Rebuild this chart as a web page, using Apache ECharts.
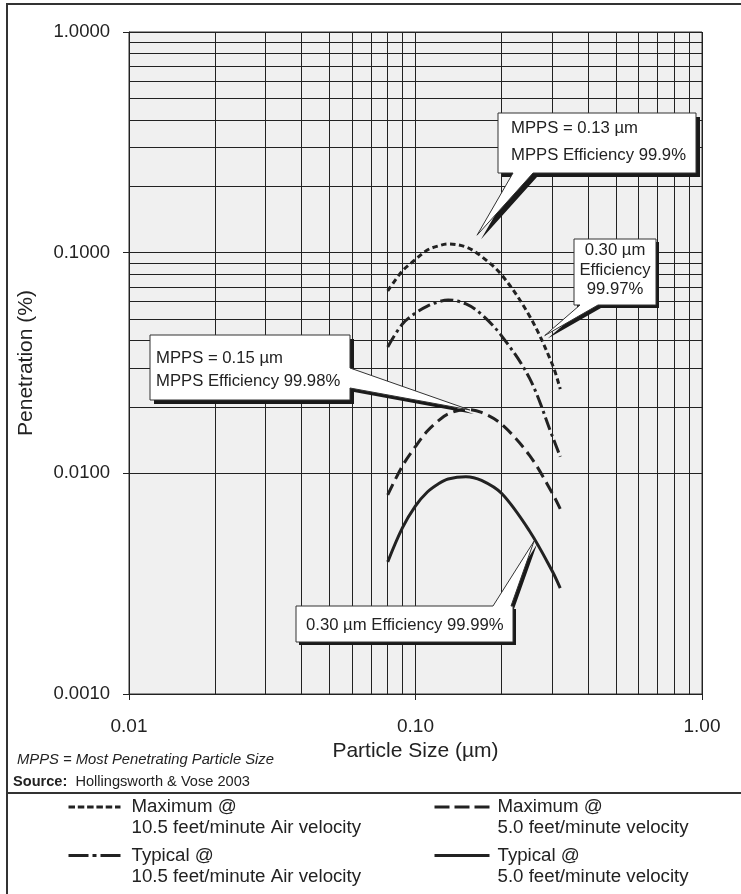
<!DOCTYPE html>
<html>
<head>
<meta charset="utf-8">
<script src="https://cdn.jsdelivr.net/npm/echarts@6/dist/echarts.min.js"></script>
<style>
  html, body { margin: 0; padding: 0; background: #ffffff; }
  #chart { width: 741px; height: 894px; }
</style>
</head>
<body>
<div id="chart"></div>
<script>
// Particle size (µm) at which each penetration curve is sampled
const particleSize = [0.08, 0.09, 0.10, 0.11, 0.12, 0.13, 0.15, 0.17, 0.20, 0.25, 0.30, 0.32];

// Penetration (%) for each filter condition
const maxHighVelocity = [0.0671, 0.0826, 0.0931, 0.1028, 0.1072, 0.1095, 0.1061, 0.0961, 0.0792, 0.0517, 0.0313, 0.0241];
const typHighVelocity = [0.0374, 0.0475, 0.0533, 0.0573, 0.0598, 0.0611, 0.0586, 0.0525, 0.0419, 0.0270, 0.0148, 0.0119];
const maxLowVelocity  = [0.00798, 0.0108, 0.01324, 0.01556, 0.01728, 0.01858, 0.01948, 0.01887, 0.01666, 0.01206, 0.00815, 0.0069];
const typLowVelocity  = [0.00397, 0.00566, 0.00712, 0.00823, 0.00895, 0.00943, 0.00966, 0.00929, 0.0081, 0.00548, 0.00361, 0.00302];

const seriesNames = [
  'Maximum @ 10.5 feet/minute Air velocity',
  'Typical @ 10.5 feet/minute Air velocity',
  'Maximum @ 5.0 feet/minute velocity',
  'Typical @ 5.0 feet/minute velocity'
];

// Intermediate log-grid lines (2..9 within each decade)
const xMinorLines = [0.02, 0.03, 0.04, 0.05, 0.06, 0.07, 0.08, 0.09, 0.2, 0.3, 0.4, 0.5, 0.6, 0.7, 0.8, 0.9];
const yMinorLines = [0.002, 0.003, 0.004, 0.005, 0.006, 0.007, 0.008, 0.009,
                     0.02, 0.03, 0.04, 0.05, 0.06, 0.07, 0.08, 0.09,
                     0.2, 0.3, 0.4, 0.5, 0.6, 0.7, 0.8, 0.9];

// Callout texts and the [size, penetration] points they point at
const calloutTexts = [
  'MPPS = 0.13 µm\nMPPS Efficiency 99.9%',
  '0.30 µm\nEfficiency\n99.97%',
  'MPPS = 0.15 µm\nMPPS Efficiency 99.98%',
  '0.30 µm Efficiency 99.99%'
];
const calloutTargets = [[0.164, 0.120], [0.2825, 0.0421], [0.1547, 0.01938], [0.2593, 0.00493]];

const FONT = '"Liberation Sans", Arial, Helvetica, sans-serif';
const INK = '#222222';

const chart = echarts.init(document.getElementById('chart'), null, { renderer: 'canvas' });

function pairs(ys) { return particleSize.map((x, i) => [x, ys[i]]); }

function curve(name, ys, dash, extra) {
  return Object.assign({
    name: name,
    type: 'line',
    data: pairs(ys),
    smooth: 0.35,
    symbol: 'none',
    z: 3,
    lineStyle: { color: INK, width: 3, type: dash, cap: 'butt' },
    itemStyle: { color: INK }
  }, extra || {});
}

// One legend block per series: line sample beside a two-line caption whose
// first line sits level with the sample (a leading blank line balances it).
function legendBlock(name, left, top, width, dash, padLeft) {
  return {
    data: [name],
    left: left,
    top: top,
    padding: 0,
    itemWidth: width,
    itemHeight: 14,
    selectedMode: false,
    lineStyle: { color: INK, width: 3, type: dash, cap: 'butt' },
    itemStyle: { opacity: 0 },
    formatter: n => '\n' + n.replace(' @ ', ' @\n'),
    textStyle: {
      color: INK, fontFamily: FONT, fontSize: 18.7, lineHeight: 21,
      padding: [0, 0, 0, padLeft]
    }
  };
}

const option = {
  animation: false,
  backgroundColor: '#ffffff',
  grid: {
    left: 129, top: 32, width: 573, height: 662,
    show: true, backgroundColor: '#f0f0f0', borderColor: '#333', borderWidth: 1
  },
  xAxis: {
    type: 'log', logBase: 10, min: 0.01, max: 1,
    name: 'Particle Size (µm)', nameLocation: 'middle', nameGap: 44,
    nameTextStyle: { color: INK, fontFamily: FONT, fontSize: 21 },
    axisLine: { show: true, lineStyle: { color: INK, width: 1 } },
    axisTick: { show: true, length: 6, lineStyle: { color: INK, width: 1 } },
    axisLabel: { color: INK, fontFamily: FONT, fontSize: 19, margin: 23,
                 formatter: v => Number(v).toFixed(2) },
    splitLine: { show: true, lineStyle: { color: INK, width: 1 } },
    minorTick: { show: false }, minorSplitLine: { show: false }
  },
  yAxis: {
    type: 'log', logBase: 10, min: 0.001, max: 1,
    name: 'Penetration (%)', nameLocation: 'middle', nameGap: 92,
    nameTextStyle: { color: INK, fontFamily: FONT, fontSize: 21 },
    axisLine: { show: true, lineStyle: { color: INK, width: 1 } },
    axisTick: { show: true, length: 6, lineStyle: { color: INK, width: 1 } },
    axisLabel: { color: INK, fontFamily: FONT, fontSize: 18.5, margin: 19,
                 formatter: v => Number(v).toFixed(4) },
    splitLine: { show: true, lineStyle: { color: INK, width: 1 } },
    minorTick: { show: false }, minorSplitLine: { show: false }
  },
  legend: [
    legendBlock(seriesNames[0], 67, 775.5, 52, [6.5, 2.8], 6),
    legendBlock(seriesNames[1], 67, 824, 52, [20, 4, 4, 4], 6),
    legendBlock(seriesNames[2], 433, 775.5, 55, [15, 5], 3),
    legendBlock(seriesNames[3], 433, 824, 55, 'solid', 3)
  ],
  series: [
    curve(seriesNames[0], maxHighVelocity, [5.5, 3.5], {
      markLine: {
        z: 1, silent: true, animation: false,
        symbol: ['none', 'none'],
        label: { show: false },
        emphasis: { disabled: true },
        lineStyle: { color: INK, width: 1, type: 'solid' },
        data: xMinorLines.map(v => ({ xAxis: v })).concat(yMinorLines.map(v => ({ yAxis: v })))
      }
    }),
    curve(seriesNames[1], typHighVelocity, [13, 4, 3, 4]),
    curve(seriesNames[2], maxLowVelocity, [12, 6]),
    curve(seriesNames[3], typLowVelocity, 'solid')
  ]
};

chart.setOption(option);

// ---- callout boxes with pointer tails and offset shadows ----
const calloutLayout = [
  { box: { x: 498, y: 113, w: 198, h: 60 }, tail: { side: 'bottom', a: 513, b: 533 }, shadow: 4,
    text: { x: 511, y: 142, align: 'left', lineHeight: 27 } },
  { box: { x: 574, y: 239, w: 82, h: 66 }, tail: { side: 'bottom', a: 580, b: 598 }, shadow: 3,
    text: { x: 615, y: 270, align: 'center', lineHeight: 19.3 } },
  { box: { x: 150, y: 335, w: 200, h: 65 }, tail: { side: 'right', a: 368, b: 388 }, shadow: 4,
    text: { x: 156, y: 370, align: 'left', lineHeight: 23.5 } },
  { box: { x: 296, y: 606, w: 217, h: 36 }, tail: { side: 'top', a: 493, b: 511 }, shadow: 3,
    text: { x: 306, y: 625, align: 'left', lineHeight: 20 } }
];

function calloutPoints(box, tail, tip) {
  const x = box.x, y = box.y, w = box.w, h = box.h;
  if (tail.side === 'bottom') {
    return [[x, y], [x + w, y], [x + w, y + h], [tail.b, y + h], tip, [tail.a, y + h], [x, y + h]];
  }
  if (tail.side === 'top') {
    return [[x, y], [tail.a, y], tip, [tail.b, y], [x + w, y], [x + w, y + h], [x, y + h]];
  }
  return [[x, y], [x + w, y], [x + w, tail.a], tip, [x + w, tail.b], [x + w, y + h], [x, y + h]];
}

const graphics = [];

// outer frame and legend separator
graphics.push({
  type: 'rect', silent: true, z: 100,
  shape: { x: 7, y: 4, width: 800, height: 950 },
  style: { fill: 'none', stroke: '#333', lineWidth: 2 }
});
graphics.push({
  type: 'line', silent: true, z: 100,
  shape: { x1: 7, y1: 793, x2: 760, y2: 793 },
  style: { stroke: '#333', lineWidth: 2 }
});

// footnotes
graphics.push({
  type: 'text', silent: true, z: 100,
  style: {
    text: 'MPPS = Most Penetrating Particle Size', x: 17, y: 760,
    fill: INK, fontFamily: FONT, fontSize: 14.8, fontStyle: 'italic',
    align: 'left', verticalAlign: 'middle', textAlign: 'left', textVerticalAlign: 'middle'
  }
});
graphics.push({
  type: 'text', silent: true, z: 100,
  style: {
    text: '{b|Source:}  Hollingsworth & Vose 2003', x: 13, y: 781.5,
    fill: INK, fontFamily: FONT, fontSize: 14.6,
    rich: { b: { fontWeight: 'bold', fontFamily: FONT, fontSize: 14.6, fill: INK } },
    align: 'left', verticalAlign: 'middle', textAlign: 'left', textVerticalAlign: 'middle'
  }
});

calloutLayout.forEach((c, i) => {
  const tip = chart.convertToPixel({ xAxisIndex: 0, yAxisIndex: 0 }, calloutTargets[i]);
  const pts = calloutPoints(c.box, c.tail, tip);
  const s = c.shadow;
  graphics.push({
    type: 'polygon', silent: true, z: 50,
    shape: { points: pts.map(p => [p[0] + s, p[1] + s]) },
    style: { fill: '#1a1a1a', stroke: 'none' }
  });
  graphics.push({
    type: 'polygon', silent: true, z: 51,
    shape: { points: pts },
    style: { fill: '#ffffff', stroke: '#333', lineWidth: 1 }
  });
  graphics.push({
    type: 'text', silent: true, z: 52,
    style: {
      text: calloutTexts[i], x: c.text.x, y: c.text.y,
      fill: INK, fontFamily: FONT, fontSize: 16.7, lineHeight: c.text.lineHeight,
      align: c.text.align, verticalAlign: 'middle',
      textAlign: c.text.align, textVerticalAlign: 'middle'
    }
  });
});

chart.setOption({ graphic: graphics });
</script>
</body>
</html>
